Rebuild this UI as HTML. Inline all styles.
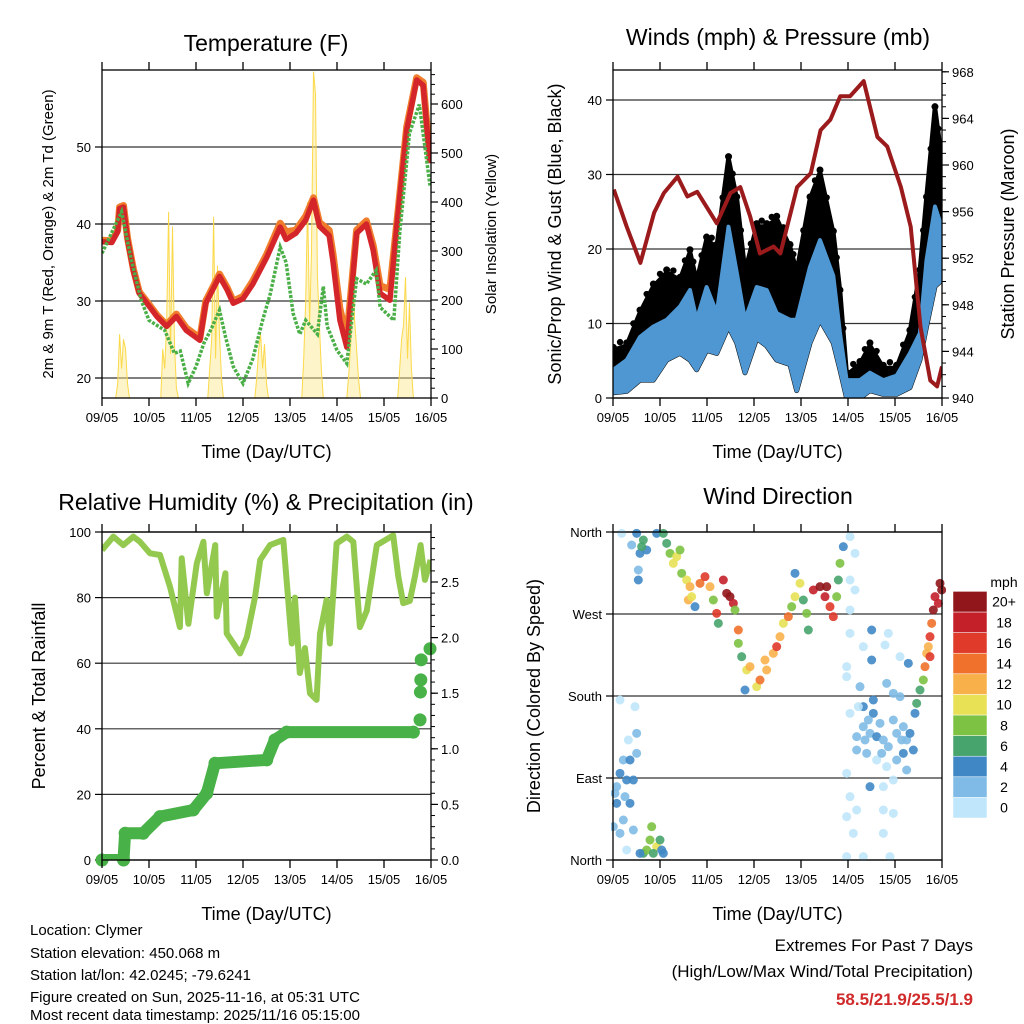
<!DOCTYPE html>
<html><head><meta charset="utf-8">
<style>
html,body{margin:0;padding:0;background:#fff;}
svg{display:block;font-family:"Liberation Sans",Arial,sans-serif;}
</style></head>
<body>
<svg id="chart" width="1024" height="1024" viewBox="0 0 1024 1024" xmlns="http://www.w3.org/2000/svg">
<g id="layer"></g>
<text x="30" y="935" font-size="15">Location: Clymer</text>
<text x="30" y="958" font-size="15">Station elevation: 450.068 m</text>
<text x="30" y="980" font-size="15">Station lat/lon: 42.0245; -79.6241</text>
<text x="30" y="1002" font-size="15">Figure created on Sun, 2025-11-16, at 05:31 UTC</text>
<text x="30" y="1024" dy="-4" font-size="15">Most recent data timestamp: 2025/11/16 05:15:00</text>
<text x="973" y="951" font-size="17" text-anchor="end">Extremes For Past 7 Days</text>
<text x="973" y="977" font-size="17" text-anchor="end">(High/Low/Max Wind/Total Precipitation)</text>
<text x="973" y="1005" font-size="17" font-weight="bold" fill="#d02a2a" text-anchor="end">58.5/21.9/25.5/1.9</text>
</svg>
<script>
// ---- data ----
const dayLabels = ["09/05","10/05","11/05","12/05","13/05","14/05","15/05","16/05"];
// temperature
const tempHours = [0,5,8,9,11,13,16,19,23,28,33,38,43,50,53,60,64,67,72,77,84,91,94,99,104,108,111,116,118,121.5,125,130,135,138.5,142,147,150.5,155.6,160.7,164,167.5];
const tempRed   = [37.7,37.6,39,42,42.2,38,34,31,29.7,28,26.7,28,26.2,24.9,29.7,33.2,31.4,29.7,30.3,32.2,35.6,39.6,38,38.8,40.5,43.1,39.7,38.5,35,27.5,24,38.8,40,36.6,31,30.1,39.6,52.2,58.7,58,47.9];
const tempOrange= [37.9,37.8,39.2,42.2,42.4,38.2,34.2,31.2,29.9,28.2,26.9,28.3,26.5,25.2,30,33.5,31.7,30,30.6,32.6,36,40.1,39,39.2,41,43.4,40.2,39.2,36,29,25.2,39.2,40.4,37.2,32,31.5,40,52.6,59,58.4,48.3];
const dewHours = [0,10,15,20,24,32,37,40,44,48,52,56,60,63,67,72,77,82,86,91,94,97.6,101,104,110,113,115,120,125,130,135,140,142,149,152,157,162,167.5];
const dewVals  = [36.2,41.6,35.3,30.1,27.5,26.2,23.2,23.5,19.3,21.5,24.5,26.5,28.8,25.4,21.5,19.3,22.5,27.5,31,37,35,28.4,25.7,27.5,25.7,31.9,26.7,23.6,21.9,32.9,32.2,34,29.2,27.5,38.8,51.8,55.5,45];
const solarHours = [7,8,9,10,11,12,13,14,30,31,32,33,34,35,36,37,38,39,54,55,56,57,58,59,60,61,62,78,79,80,81,82,83,84,85,102,103,104,105,106,107,108,109,110,111,112,113,125,126,127,128,129,130,131,132,151,152,153,154,155,156,157,158,159];
const solarVals  = [0,30,130,60,120,100,30,0,0,100,60,150,380,90,350,110,20,0,0,60,120,370,80,270,130,40,0,0,40,100,130,60,110,30,0,0,80,200,400,150,300,666,620,250,150,60,0,0,50,110,268,160,100,40,0,0,60,120,150,247,80,194,60,0];
// winds
const windHours = [0.2,7,13.8,20.6,27.4,34.2,39.3,42.7,47.8,53,59,63.2,67.4,73.4,78.5,83.6,90.4,93.8,100.6,105.7,112.5,115.9,119.3,126.1,131.2,138,144.8,151.6,156.7,160.1,164.4,167.8];
const windMax = [3.8,5.1,8.2,9.6,10.5,12.3,14.5,10.5,14.9,11.4,23,16.8,10.5,14.9,14.5,11.4,10.5,10.5,17.6,21.2,16.4,8.7,2.4,2.4,3.4,2.4,3,6,8.7,18.5,25.7,23];
const windMin = [0.7,0.9,2.4,2.4,5.1,6,5.1,3.8,6.4,6,9.6,7.4,3.4,8,7,5.1,4.5,1,7.4,10.5,7.4,3.8,0,0,1,0.5,0.5,1.4,5.1,9.6,15,15.8];
const gustMax = [6.4,7,11.4,14.9,16.8,15.8,19.5,15.5,21.2,20.2,32,26.6,16.8,23,23,24,20.2,16.8,26.6,30.2,22,14.1,3,4.5,7,4,4,8.7,16.8,26.6,38.7,32];
const presHours = [0.4,7,14,21,26,33,38,43,53,60,65,70,75,82,85.5,94,101,106,111,116,121,128,135,140,147,152,157,162,165.5,168];
const presVals  = [957.9,954.7,951.6,955.9,957.6,959.0,957.3,957.7,955.0,957.6,958.1,955.6,952.4,953.0,952.4,958.1,959.3,963.0,963.9,965.9,965.9,967.2,962.4,961.6,958.1,954.7,946.1,941.5,941.0,942.7];
// humidity & precip
const rhHours = [0,5.8,10.9,16,19.4,24.5,29.6,34.7,39.8,40.7,44.1,48.4,51.8,53.5,57.8,58.6,63,63.7,70.5,74,78.2,80.8,85.8,92.6,96.9,98.5,101,103.6,106.2,109.6,111.3,114.7,116.4,119.8,125,128.3,131.7,135.2,140.3,148.7,151.3,153.8,157.2,159.8,162.7,164.9,167.8];
const rhVals  = [94.5,98.6,96,98.6,97,93.5,93,83.3,71,92,72,90.5,97,81.3,96,74.2,87.4,69.1,63,68,80.3,91.5,96,97.6,66,80,57,64.6,50.8,48.8,69,79.3,66,96.5,98.6,97,71,76,96,99,86.4,78.3,79,86.4,96,85.4,91.5];
const rainHours = [0,11,11.8,21,29.6,46.6,53.5,57.7,84.1,88.3,94.3,159,162.4,162.6,162.8,163,167.5];
const rainVals  = [0,0,0.24,0.24,0.39,0.45,0.6,0.87,0.9,1.08,1.15,1.15,1.26,1.51,1.62,1.8,1.9];
// wind direction samples
const dirPts = [[20,800,2],[30,760,3],[40,720,2],[50,780,3],[60,720,4],[70,780,4],[20,850,3],[40,900,2],[60,850,4],[70,930,2],[30,940,2],[50,990,0],[80,700,2],[80,640,2],[75,560,0],[30,540,0],[55,660,0],[10,920,2],[15,820,2],[45,830,2],
[35,40,0],[80,40,4],[100,60,6],[90,100,4],[110,90,4],[85,150,2],[85,180,4],[65,75,2],[95,80,6],
[100,1000,6],[120,960,8],[125,920,8],[140,980,10],[150,960,6],[160,1000,4],[110,990,8],[130,1000,6],[155,990,4],[90,1000,4],
[140,40,4],[160,40,6],[170,70,6],[180,100,8],[190,130,10],[200,110,10],[210,90,8],[215,160,8],[230,180,10],[240,200,12],[235,240,12],[245,230,10],[255,260,4],[270,190,14],[285,170,16],[300,200,12],[310,240,8],[320,280,16],[325,310,6],[340,180,18],[350,220,20],[360,230,20],[370,250,18],[375,270,8],
[385,330,14],[385,370,8],[395,410,6],[410,450,10],[405,510,4],[420,440,12],[440,500,10],[450,480,14],[465,420,12],[470,450,12],[490,400,12],[500,380,16],[510,350,12],[520,310,10],[535,290,14],[545,260,8],[555,230,10],[555,160,4],[570,190,10],[580,240,6],[590,280,8],[595,330,6],[610,210,18],[630,200,20],[645,230,18],[660,260,16],[670,290,16],[650,200,20],[680,230,8],[685,180,6],[690,130,8],[700,80,4],[720,50,0],[735,100,0],
[720,180,0],[735,210,0],[720,270,0],[785,330,4],[720,340,0],[760,380,0],[825,375,0],[835,340,0],[710,440,0],[785,420,4],[870,410,0],[895,430,4],[710,470,0],[750,500,2],[790,540,4],[760,560,4],[830,490,2],[850,520,2],[870,530,2],[720,580,0],[790,580,4],[760,620,2],[740,650,2],[780,640,2],[800,650,4],[820,660,2],[850,600,2],[860,640,2],[880,620,2],[890,660,2],[900,640,4],[740,690,2],[770,700,2],[800,720,0],[830,740,0],[860,720,2],[880,700,4],[890,750,2],[910,690,4],[710,760,0],[780,800,4],[820,800,0],[850,780,0],[720,830,0],[740,870,0],[820,870,0],[710,890,0],[730,940,0],[820,940,0],[710,1010,0],[760,1010,0],[840,1010,0],[850,880,0],[775,600,2],[810,610,2],[835,680,2],[765,660,2],[875,660,2],[745,560,0],[815,700,2],
[915,580,4],[920,550,6],[930,510,6],[940,480,8],[945,440,14],[950,400,12],[955,380,12],[960,350,16],[965,310,14],[970,270,20],[975,230,18],[985,250,18],[990,190,20],[995,210,20],[960,410,16]];
const dirHours = dirPts.map(p => (p[0]/3 - 3) * 24 / 47);
const dirDeg = dirPts.map(p => (860 - (520 + p[1]/3)) * 360 / 328);
const dirSpd = dirPts.map(p => p[2]);
const speedColors = ["#bfe6fa","#7fbbe6","#3f88c5","#47a46c","#7dc242","#e8e155","#f8b14a","#f0712b","#df3a2a","#c4202a","#91161b"];
const speedLabels = ["0","2","4","6","8","10","12","14","16","18","20+"];

// ---- helpers ----
const NS = "http://www.w3.org/2000/svg";
const layer = document.getElementById("layer");
function mk(tag, attrs, parent) {
  const e = document.createElementNS(NS, tag);
  for (const k in attrs) e.setAttribute(k, attrs[k]);
  (parent || layer).appendChild(e);
  return e;
}
function txt(x, y, s, size, anchor, parent, rot) {
  const t = mk("text", {x: x, y: y, "font-size": size, "text-anchor": anchor || "middle"}, parent);
  if (rot) t.setAttribute("transform", "rotate(" + rot + " " + x + " " + y + ")");
  t.textContent = s;
  return t;
}
function makePanel(name, L, R, T, B) {
  const g = mk("g", {});
  
  
  const xs = h => L + h / 168 * (R - L);
  return {g, L, R, T, B, xs};
}
function drawFrame(p, name) {
  const f = mk("rect", {x: p.L, y: p.T, width: p.R - p.L, height: p.B - p.T, fill: "none", stroke: "#000", "stroke-width": 1.3}, p.g);
  
  
  for (let d = 0; d < 8; d++) {
    const x = p.xs(d * 24);
    mk("line", {x1: x, x2: x, y1: p.B, y2: p.B + 8, stroke: "#000", "stroke-width": 1.3}, p.g);
    mk("line", {x1: x, x2: x, y1: p.T, y2: p.T - 8, stroke: "#000", "stroke-width": 1.3}, p.g);
    const t = txt(x, p.B + 24, dayLabels[d], 13, "middle", p.g);
    
    
  }
  const xt = txt((p.L + p.R) / 2, p.B + 60, "Time (Day/UTC)", 18, "middle", p.g);
  
  
}
function yAxis(p, vals, labels, ys, side, grid, size) {
  vals.forEach((v, i) => {
    const y = ys(v);
    if (grid) mk("line", {x1: p.L, x2: p.R, y1: y, y2: y, stroke: "#333", "stroke-width": 1.2}, p.g);
    if (side === "L") {
      mk("line", {x1: p.L - 7, x2: p.L, y1: y, y2: y, stroke: "#000", "stroke-width": 1.2}, p.g);
      const t = txt(p.L - 11, y + 5, labels[i], size || 13, "end", p.g);
      
      
    } else {
      mk("line", {x1: p.R, x2: p.R + 7, y1: y, y2: y, stroke: "#000", "stroke-width": 1.2}, p.g);
      const t = txt(p.R + 10, y + 5, labels[i], size || 13, "start", p.g);
      
      
    }
  });
}
function minorTicks(p, ys, from, to, step) {
  for (let v = from; v <= to + 1e-9; v += step) {
    const y = ys(v);
    if (y < p.T - 0.5) continue;
    mk("line", {x1: p.R, x2: p.R + 4, y1: y, y2: y, stroke: "#000", "stroke-width": 1}, p.g);
  }
}
function pathFrom(hs, vs, xs, ys) {
  return hs.map((h, i) => (i ? "L" : "M") + xs(h).toFixed(1) + "," + ys(vs[i]).toFixed(1)).join("");
}

// ---- Panel 1: Temperature ----
(function () {
  const p = makePanel("temperature-panel", 102, 431, 70, 398);
  const ty = v => 224 - (v - 40) * 7.7;
  const sy = v => 398 - v * 0.49;
  const clip = mk("clipPath", {id: "c1"}, p.g);
  mk("rect", {x: p.L, y: p.T, width: p.R - p.L, height: p.B - p.T}, clip);
  const title = txt(266, 51, "Temperature (F)", 23, "middle", p.g);
  
  
  yAxis(p, [20,30,40,50], ["20","30","40","50"], ty, "L", true);
  yAxis(p, [0,100,200,300,400,500,600], ["0","100","200","300","400","500","600"], sy, "R", false);
  minorTicks(p, sy, 0, 660, 20);
  const dg = mk("g", {"clip-path": "url(#c1)"}, p.g);
  const sol = mk("path", {d: pathFrom(solarHours, solarVals, p.xs, sy), fill: "#fde68a", "fill-opacity": 0.45, stroke: "#fbd94a", "stroke-width": 1}, dg);
  
  
  const o = mk("path", {d: pathFrom(tempHours, tempOrange, p.xs, ty), fill: "none", stroke: "#f07d2c", "stroke-width": 7, "stroke-linejoin": "round"}, dg);
  
  
  const r = mk("path", {d: pathFrom(tempHours, tempRed, p.xs, ty), fill: "none", stroke: "#d4262a", "stroke-width": 5.5, "stroke-linejoin": "round"}, dg);
  
  
  const gr = mk("path", {d: pathFrom(dewHours, dewVals, p.xs, ty), fill: "none", stroke: "#4aaf46", "stroke-width": 3.5, "stroke-dasharray": "3,1.5"}, dg);
  
  
  drawFrame(p, "temperature");
  const yl = txt(53, 234, "2m & 9m T (Red, Orange) & 2m Td (Green)", 15, "middle", p.g, -90);
  
  
  const yr = txt(496, 234, "Solar Insolation (Yellow)", 15, "middle", p.g, -90);
  
  
})();

// ---- Panel 2: Winds ----
(function () {
  const p = makePanel("winds-panel", 613, 942, 70, 398);
  const wy = v => 398 - v * 7.45;
  const py = v => 398 - (v - 940) * 11.65;
  const clip = mk("clipPath", {id: "c2"}, p.g);
  mk("rect", {x: p.L, y: p.T, width: p.R - p.L, height: p.B - p.T}, clip);
  const title = txt(778, 45, "Winds (mph) & Pressure (mb)", 23, "middle", p.g);
  
  
  yAxis(p, [0,10,20,30,40], ["0","10","20","30","40"], wy, "L", true);
  yAxis(p, [940,944,948,952,956,960,964,968], ["940","944","948","952","956","960","964","968"], py, "R", false);
  minorTicks(p, py, 940, 968, 1);
  const dg = mk("g", {"clip-path": "url(#c2)"}, p.g);
  const gustBand = pathFrom(windHours, gustMax, p.xs, wy) + windHours.slice().reverse().map((h, i) => "L" + p.xs(h).toFixed(1) + "," + wy(windMin[windHours.length - 1 - i]).toFixed(1)).join("") + "Z";
  const gb = mk("path", {d: gustBand, fill: "#000", stroke: "#000", "stroke-width": 5, "stroke-linejoin": "round"}, dg);
  
  
  windHours.forEach((h, i) => {
    const c = mk("circle", {cx: p.xs(h), cy: wy(gustMax[i]) - 3, r: 3.5, fill: "#000"}, dg);
    
    
    if (i > 0) {
      const c2 = mk("circle", {cx: (p.xs(h) + p.xs(windHours[i-1])) / 2, cy: (wy(gustMax[i]) + wy(gustMax[i-1])) / 2 - 6, r: 3.2, fill: "#000"}, dg);
      
      
    }
  });
  const windBand = pathFrom(windHours, windMax, p.xs, wy) + windHours.slice().reverse().map((h, i) => "L" + p.xs(h).toFixed(1) + "," + wy(windMin[windHours.length - 1 - i]).toFixed(1)).join("") + "Z";
  const wb = mk("path", {d: windBand, fill: "#4f97d2", stroke: "#4f97d2", "stroke-width": 4, "stroke-linejoin": "round"}, dg);
  
  
  const pr = mk("path", {d: pathFrom(presHours, presVals, p.xs, py), fill: "none", stroke: "#9b1a1c", "stroke-width": 4, "stroke-linejoin": "round"}, dg);
  
  
  drawFrame(p, "winds");
  const yl = txt(561, 234, "Sonic/Prop Wind & Gust (Blue, Black)", 18, "middle", p.g, -90);
  
  
  const yr = txt(1014, 234, "Station Pressure (Maroon)", 18, "middle", p.g, -90);
  
  
})();

// ---- Panel 3: RH & precip ----
(function () {
  const p = makePanel("humidity-panel", 102, 431, 532, 860);
  const ry = v => 860 - v * 3.28;
  const qy = v => 860 - v * 111.2;
  const clip = mk("clipPath", {id: "c3"}, p.g);
  mk("rect", {x: p.L, y: p.T, width: p.R - p.L, height: p.B - p.T}, clip);
  const title = txt(266, 510, "Relative Humidity (%) & Precipitation (in)", 23, "middle", p.g);
  
  
  yAxis(p, [0,20,40,60,80,100], ["0","20","40","60","80","100"], ry, "L", true);
  yAxis(p, [0,0.5,1,1.5,2,2.5], ["0.0","0.5","1.0","1.5","2.0","2.5"], qy, "R", false);
  minorTicks(p, qy, 0, 2.95, 0.1);
  const dg = mk("g", {"clip-path": "url(#c3)"}, p.g);
  const rh = mk("path", {d: pathFrom(rhHours, rhVals, p.xs, ry), fill: "none", stroke: "#93c94f", "stroke-width": 6, "stroke-linejoin": "round"}, dg);
  
  
  const rn = mk("path", {d: pathFrom(rainHours.slice(0, 12), rainVals.slice(0, 12), p.xs, qy), fill: "none", stroke: "#48b147", "stroke-width": 12, "stroke-linejoin": "round", "stroke-linecap": "round"}, dg);
  
  
  rainHours.forEach((h, i) => {
    const c = mk("circle", {cx: p.xs(h), cy: qy(rainVals[i]), r: 6.5, fill: "#48b147"}, p.g);
    
    
  });
  drawFrame(p, "humidity");
  const yl = txt(45, 696, "Percent & Total Rainfall", 18, "middle", p.g, -90);
  
  
})();

// ---- Panel 4: Wind direction ----
(function () {
  const p = makePanel("wind-direction-panel", 613, 942, 532, 860);
  const dy = v => 860 - v * 328 / 360;
  const title = txt(778, 504, "Wind Direction", 23, "middle", p.g);
  
  
  yAxis(p, [0,90,180,270,360], ["North","East","South","West","North"], dy, "L", true, 13);
  const clip = mk("clipPath", {id: "c4"}, p.g);
  mk("rect", {x: p.L - 2, y: p.T - 4, width: p.R - p.L + 6, height: p.B - p.T + 6}, clip);
  const dg = mk("g", {"clip-path": "url(#c4)"}, p.g);
  dirHours.forEach((h, i) => {
    const idx = Math.min(10, Math.round(dirSpd[i] / 2));
    const c = mk("circle", {cx: p.xs(h), cy: dy(dirDeg[i]), r: 4.5, fill: speedColors[idx], "fill-opacity": 0.9}, dg);
    
    
  });
  drawFrame(p, "wind-direction");
  const yl = txt(540, 696, "Direction (Colored By Speed)", 18, "middle", p.g, -90);
  
  
  const cb = mk("g", {}, p.g);
  
  
  const bh = 20.6;
  for (let i = 0; i < 11; i++) {
    const y = 818 - (i + 1) * bh;
    const r = mk("rect", {x: 953, y: y, width: 34, height: bh, fill: speedColors[i], stroke: "#fff", "stroke-width": 0.5}, cb);
    
    
    const t = txt(1004, y + bh / 2 + 5, speedLabels[i], 14, "middle", cb);
    
    
  }
  const u = txt(1004, 587, "mph", 14, "middle", cb);
  
  
})();
</script>
</body></html>
